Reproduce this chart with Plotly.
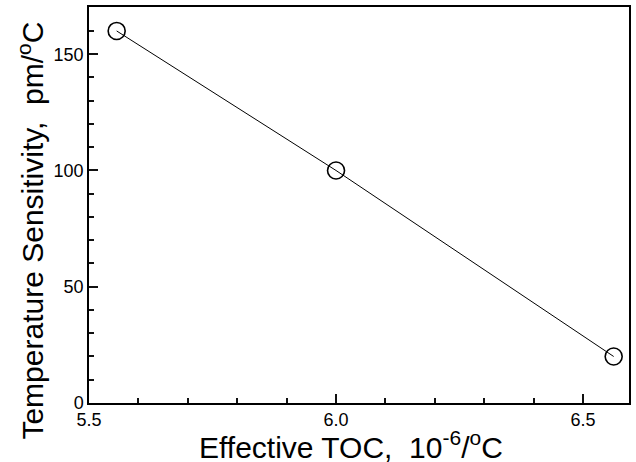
import plotly.graph_objects as go

toc = [5.556, 6.0, 6.562]
sensitivity = [160, 100, 20]

x_ticks = [5.5, 6.0, 6.5]
y_ticks = [0, 50, 100, 150]
x_title = "Effective TOC,  10<sup>-6</sup>/<sup>o</sup>C"
y_title = "Temperature Sensitivity,  pm/<sup>o</sup>C"

fig = go.Figure()
fig.add_trace(go.Scatter(
    x=toc, y=sensitivity, mode="lines+markers",
    line=dict(color="black", width=1),
    marker=dict(symbol="circle-open", size=17, color="black", line=dict(width=1.6)),
    showlegend=False,
))

font = "Arial, Liberation Sans, sans-serif"
tick_color = "#111111"
fig.update_layout(
    width=636, height=462,
    margin=dict(l=89, r=5, t=6, b=59),
    plot_bgcolor="white", paper_bgcolor="white",
    font=dict(family=font, color="black"),
    xaxis=dict(
        range=[5.5, 6.593], tickmode="linear", tick0=x_ticks[0], dtick=x_ticks[1] - x_ticks[0],
        tickformat=".1f",
        ticks="inside", ticklen=9, tickwidth=1.5, tickcolor=tick_color,
        minor=dict(dtick=0.1, ticks="inside", ticklen=5, tickcolor=tick_color, tickwidth=1.5),
        showline=True, linecolor="black", linewidth=1.5, mirror=True,
        showgrid=False, zeroline=False,
        tickfont=dict(size=18),
    ),
    yaxis=dict(
        range=[0, 170.3], tickmode="linear", tick0=y_ticks[0], dtick=y_ticks[1] - y_ticks[0],
        ticks="inside", ticklen=9, tickwidth=1.5, tickcolor=tick_color,
        minor=dict(dtick=10, ticks="inside", ticklen=5, tickcolor=tick_color, tickwidth=1.5),
        showline=True, linecolor="black", linewidth=1.5, mirror=True,
        showgrid=False, zeroline=False,
        tickfont=dict(size=18),
    ),
    annotations=[
        dict(text=x_title, xref="paper", yref="paper", x=0.485, y=-0.106,
             xanchor="center", yanchor="middle", showarrow=False, font=dict(size=30)),
        dict(text=y_title, xref="paper", yref="paper", x=-0.107, y=0.436,
             xanchor="center", yanchor="middle", textangle=-90, showarrow=False, font=dict(size=30)),
    ],
)
fig.write_html("out.html")
